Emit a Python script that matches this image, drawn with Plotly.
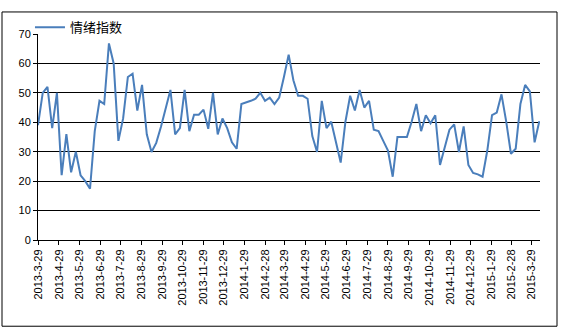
import pandas as pd
import plotly.graph_objects as go

# Weekly sentiment index, starting Friday 2013-03-29
start_date = "2013-03-29"
sentiment = [
    39, 50, 52, 38, 50, 22, 36, 23, 30, 22,
    20, 17.4, 37, 47.3, 46.2, 66.8, 60, 33.7, 41.3, 55.4,
    56.5, 44, 52.7, 35.9, 29.9, 33, 38.5, 45, 51, 35.9,
    38, 51, 37, 42.6, 42.6, 44.3, 37.8, 50, 35.9, 41.3,
    38, 33.2, 31, 46.2, 46.7, 47.3, 48, 50, 47.3, 48.4,
    46.2, 48.4, 55.4, 63, 54.3, 49, 49, 48, 35.3, 29.9,
    47.3, 38, 40.2, 33.7, 26.3, 40.2, 49, 44, 51, 45,
    47.3, 37.5, 37, 33.7, 30.4, 21.5, 35, 35, 35, 40.2,
    46.2, 37, 42.4, 39.7, 42.4, 25.5, 31.5, 37.5, 39.3, 29.9,
    38.6, 25.5, 22.8, 22.3, 21.5, 30.4, 42.4, 43.3, 49.5, 40.2,
    29.3, 31, 46.2, 52.7, 50.5, 33.2, 40.4,
]
dates = pd.date_range(start_date, periods=len(sentiment), freq="7D")

tick_labels = [
    "2013-3-29", "2013-4-29", "2013-5-29", "2013-6-29", "2013-7-29",
    "2013-8-29", "2013-9-29", "2013-10-29", "2013-11-29", "2013-12-29",
    "2014-1-29", "2014-2-28", "2014-3-29", "2014-4-29", "2014-5-29",
    "2014-6-29", "2014-7-29", "2014-8-29", "2014-9-29", "2014-10-29",
    "2014-11-29", "2014-12-29", "2015-1-29", "2015-2-28", "2015-3-29",
]
tick_positions = pd.to_datetime(tick_labels, format="%Y-%m-%d")
y_ticks = [0, 10, 20, 30, 40, 50, 60, 70]

W, H = 561, 335
L, R, T, B = 38, 21, 25, 95
plot_w, plot_h = W - L - R, H - T - B

font = dict(family="Liberation Sans, Arial, sans-serif", size=11, color="black")

fig = go.Figure()
fig.add_trace(go.Scatter(
    x=dates, y=sentiment, mode="lines", name="情绪指数",
    line=dict(color="#4A7EBB", width=2),
))

# outer chart frame
fig.add_shape(
    type="rect", xref="paper", yref="paper",
    x0=(2 - L) / plot_w, x1=(557 - L) / plot_w,
    y0=-(330 - T - plot_h) / plot_h, y1=1 + (T - 2) / plot_h,
    line=dict(color="black", width=1), fillcolor="rgba(0,0,0,0)",
)

fig.update_layout(
    width=W, height=H,
    margin=dict(l=L, r=R, t=T, b=B),
    paper_bgcolor="white", plot_bgcolor="white",
    font=font,
    showlegend=True,
    legend=dict(
        x=-0.016, y=1 + 7 / plot_h, xanchor="left", yanchor="middle",
        orientation="h", bgcolor="rgba(0,0,0,0)",
        font=dict(family="Noto Sans CJK SC, sans-serif", size=13, color="black"),
        itemwidth=30,
    ),
    xaxis=dict(
        type="date",
        range=["2013-03-29", "2015-04-11"],
        tickvals=tick_positions, ticktext=tick_labels,
        tickangle=-90, ticks="outside", ticklen=4, tickcolor="black",
        showgrid=False, showline=True, linecolor="black", linewidth=1,
        zeroline=False, tickfont=font,
    ),
    yaxis=dict(
        range=[0, 70], tickvals=y_ticks,
        ticks="outside", ticklen=4, tickcolor="black",
        showgrid=True, gridcolor="black", gridwidth=1,
        showline=True, linecolor="black", linewidth=1,
        zeroline=False, tickfont=font,
    ),
)

fig.write_html("out.html")
